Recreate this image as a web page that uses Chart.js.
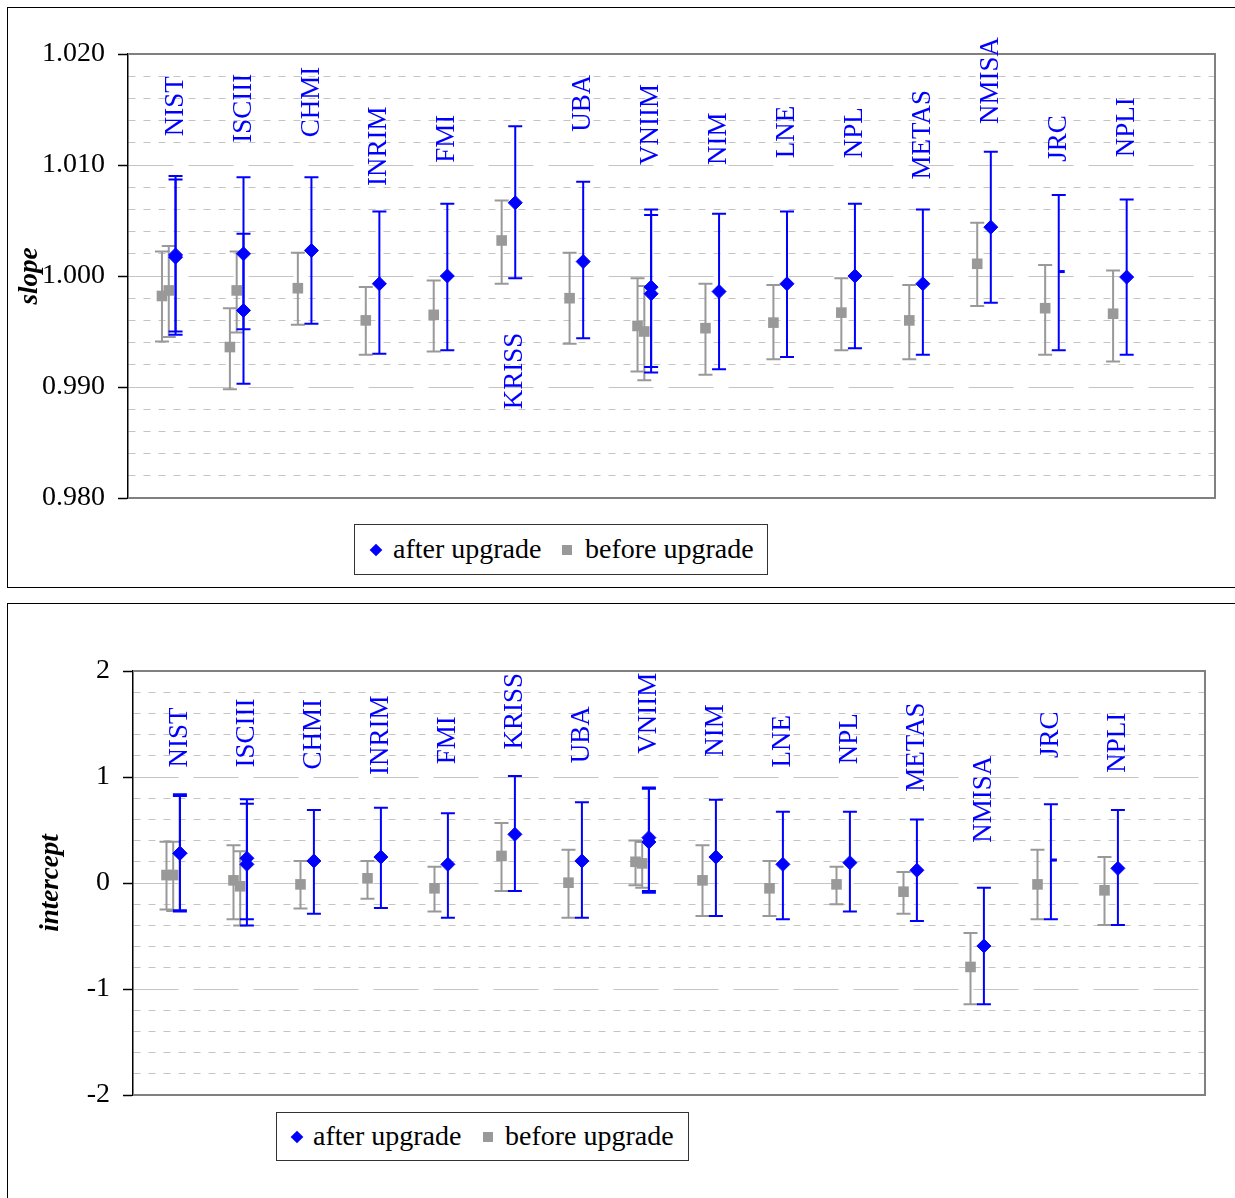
<!DOCTYPE html>
<html>
<head>
<meta charset="utf-8">
<script src="https://cdn.jsdelivr.net/npm/chart.js@4.4.0/dist/chart.umd.min.js"></script>
<style>
    body { margin: 0; width: 1235px; height: 1198px; overflow: hidden; position: relative; background: #fff; font-family: 'Liberation Serif', 'Times New Roman', serif; }
    .frame { position: absolute; border: 1.5px solid #000; box-sizing: border-box; }
    #frame-top { left: 7px; top: 7px; width: 1245px; height: 581px; }
    #frame-bottom { left: 7px; top: 603px; width: 1245px; height: 620px; }
    canvas { position: absolute; left: 0; }
    #slopeChart { top: 0; }
    #interceptChart { top: 600px; }
    .legend { position: absolute; border: 1.5px solid #333; box-sizing: border-box; background: #fff; font-size: 28px; color: #000; white-space: nowrap; }
    .legend span { position: absolute; }
    .legend .txt { top: 50%; transform: translateY(-52%); line-height: 1; }
    .legend .diamond { width: 9px; height: 9px; background: #0000ff; top: 50%; transform: translate(-50%, -50%) rotate(45deg); }
    .legend .square { width: 10px; height: 10px; background: #999999; top: 50%; transform: translate(-50%, -50%); }
    #legend-top { left: 354px; top: 524px; width: 414px; height: 51px; }
    #legend-bottom { left: 276px; top: 1112px; width: 413px; height: 49px; }
</style>
</head>
<body>
<div class="frame" id="frame-top"></div>
<div class="frame" id="frame-bottom"></div>
<canvas id="slopeChart" width="1235" height="595"></canvas>
<canvas id="interceptChart" width="1235" height="598"></canvas>
<div class="legend" id="legend-top">
    <span class="diamond" style="left:21px"></span><span class="txt" style="left:38px">after upgrade</span>
    <span class="square" style="left:212px"></span><span class="txt" style="left:230px">before upgrade</span>
</div>
<div class="legend" id="legend-bottom">
    <span class="diamond" style="left:20px"></span><span class="txt" style="left:36px">after upgrade</span>
    <span class="square" style="left:211px"></span><span class="txt" style="left:228px">before upgrade</span>
</div>
<script>
const labs = ['NIST', 'ISCIII', 'CHMI', 'INRIM', 'FMI', 'KRISS', 'UBA', 'VNIIM', 'NIM', 'LNE', 'NPL', 'METAS', 'NMISA', 'JRC', 'NPLI'];

// one entry per result, NIST, ISCIII and VNIIM reported two
const afterLab = [0, 0, 1, 1, 2, 3, 4, 5, 6, 7, 7, 8, 9, 10, 11, 12, 13, 14];
const afterSlope = [1.0019, 1.0017, 1.0020, 0.9969, 1.0023, 0.9993, 1.0000, 1.0066, 1.0013, 0.9990, 0.9984, 0.9986, 0.9993, 1.0000, 0.9993, 1.0044, 1.0004, 0.9999];
const afterSlopeLow = [0.9950, 0.9947, 0.9952, 0.9903, 0.9957, 0.9930, 0.9933, 0.9998, 0.9944, 0.9918, 0.9913, 0.9916, 0.9927, 0.9935, 0.9929, 0.9976, 0.9933, 0.9929];
const afterSlopeHigh = [1.0090, 1.0087, 1.0089, 1.0038, 1.0089, 1.0058, 1.0065, 1.0135, 1.0085, 1.0060, 1.0055, 1.0056, 1.0058, 1.0065, 1.0060, 1.0112, 1.0073, 1.0069];
const afterIntercept = [0.28, 0.28, 0.233, 0.176, 0.208, 0.245, 0.176, 0.459, 0.208, 0.428, 0.387, 0.245, 0.176, 0.192, 0.12, -0.594, 0.217, 0.138];
const afterInterceptLow = [-0.258, -0.27, -0.343, -0.40, -0.29, -0.236, -0.327, -0.075, -0.327, -0.075, -0.091, -0.311, -0.343, -0.27, -0.358, -1.145, -0.343, -0.396];
const afterInterceptHigh = [0.837, 0.82, 0.79, 0.748, 0.689, 0.71, 0.657, 1.009, 0.761, 0.90, 0.89, 0.786, 0.673, 0.673, 0.60, -0.044, 0.742, 0.689];

const beforeLab = [0, 0, 1, 1, 2, 3, 4, 5, 6, 7, 7, 8, 9, 10, 11, 12, 13, 14];
const beforeSlope = [0.9982, 0.9987, 0.9936, 0.9987, 0.9989, 0.9960, 0.9965, 1.0032, 0.9980, 0.9955, 0.9950, 0.9953, 0.9958, 0.9967, 0.9960, 1.0011, 0.9971, 0.9966];
const beforeSlopeLow = [0.9941, 0.9945, 0.9898, 0.9949, 0.9956, 0.9929, 0.9932, 0.9993, 0.9939, 0.9914, 0.9906, 0.9911, 0.9925, 0.9933, 0.9925, 0.9973, 0.9929, 0.9923];
const beforeSlopeHigh = [1.0022, 1.0027, 0.9971, 1.0022, 1.0021, 0.9990, 0.9996, 1.0068, 1.0021, 0.9998, 0.9991, 0.9993, 0.9992, 0.9998, 0.9992, 1.0048, 1.0010, 1.0005];
const beforeIntercept = [0.075, 0.075, 0.025, -0.031, -0.013, 0.044, -0.05, 0.255, 0.003, 0.20, 0.185, 0.025, -0.05, -0.013, -0.082, -0.792, -0.013, -0.069];
const beforeInterceptLow = [-0.25, -0.264, -0.343, -0.40, -0.24, -0.148, -0.27, -0.075, -0.327, -0.022, -0.044, -0.311, -0.311, -0.20, -0.29, -1.145, -0.343, -0.396];
const beforeInterceptHigh = [0.39, 0.39, 0.355, 0.30, 0.208, 0.208, 0.154, 0.566, 0.314, 0.40, 0.387, 0.355, 0.208, 0.154, 0.104, -0.472, 0.314, 0.245];

// value on the y axis where each lab name starts
const slopeLabelAt = [1.0126, 1.0120, 1.0125, 1.0081, 1.0102, 0.9880, 1.0130, 1.0100, 1.0100, 1.0106, 1.0106, 1.0087, 1.0137, 1.0103, 1.0107];
const interceptLabelAt = [1.09, 1.09, 1.07, 1.02, 1.12, 1.26, 1.13, 1.22, 1.19, 1.09, 1.12, 0.86, 0.38, 1.18, 1.04];

const slopeRange = [0.98, 1.02];
const slopeMajor = 0.01;
const slopeMinor = 0.002;
const interceptRange = [-2, 2];
const interceptMajor = 1;
const interceptMinor = 0.2;

const BLUE = '#0000ff';
const GRAY = '#999999';
const SERIF = "'Liberation Serif', 'Times New Roman', serif";

Chart.defaults.font.family = SERIF;

function afterPoints(values) {
    return afterLab.map((lab, i) => ({ x: lab + 1.2, y: values[i] }));
}

function beforePoints(values) {
    const seen = {};
    return beforeLab.map((lab, i) => {
        const repeat = seen[lab] || 0;
        seen[lab] = repeat + 1;
        return { x: lab + 1 + 0.1 * repeat, y: values[i] };
    });
}

const errorBarPlugin = {
    id: 'errorBars',
    beforeDatasetsDraw(chart) {
        const { ctx, chartArea } = chart;
        const yScale = chart.scales.y;
        ctx.save();
        // plot area frame (the left edge is the axis line)
        ctx.strokeStyle = '#808080';
        ctx.lineWidth = 2;
        ctx.beginPath();
        ctx.moveTo(chartArea.left, chartArea.top);
        ctx.lineTo(chartArea.right, chartArea.top);
        ctx.lineTo(chartArea.right, chartArea.bottom);
        ctx.lineTo(chartArea.left, chartArea.bottom);
        ctx.stroke();

        for (let d = chart.data.datasets.length - 1; d >= 0; d--) {
            const ds = chart.data.datasets[d];
            const meta = chart.getDatasetMeta(d);
            ctx.strokeStyle = ds.borderColor;
            ctx.lineWidth = 2;
            meta.data.forEach((pt, i) => {
                const top = yScale.getPixelForValue(ds.high[i]);
                const bottom = yScale.getPixelForValue(ds.low[i]);
                ctx.beginPath();
                ctx.moveTo(pt.x, top);
                ctx.lineTo(pt.x, bottom);
                ctx.moveTo(pt.x - 7, top);
                ctx.lineTo(pt.x + 7, top);
                ctx.moveTo(pt.x - 7, bottom);
                ctx.lineTo(pt.x + 7, bottom);
                ctx.stroke();
            });
        }
        ctx.restore();
    },
};

const labLabelPlugin = {
    id: 'labLabels',
    afterDatasetsDraw(chart, args, opts) {
        const { ctx } = chart;
        const xScale = chart.scales.x;
        const yScale = chart.scales.y;
        ctx.save();
        ctx.fillStyle = BLUE;
        ctx.font = `27px ${SERIF}`;
        ctx.textAlign = 'left';
        ctx.textBaseline = 'middle';
        labs.forEach((name, i) => {
            const x = xScale.getPixelForValue(i + 1.2);
            const y = yScale.getPixelForValue(opts.at[i]);
            ctx.save();
            ctx.translate(x, y);
            ctx.rotate(-Math.PI / 2);
            ctx.fillText(name, 0, 0);
            ctx.restore();
        });
        ctx.restore();
    },
};

function makeChart(canvasId, cfg) {
    const isMajor = (v) => Math.abs(v / cfg.major - Math.round(v / cfg.major)) < 1e-6;
    const tickValue = (c) => (c.tick ? c.tick.value : null);

    return new Chart(document.getElementById(canvasId), {
        type: 'scatter',
        data: {
            datasets: [
                {
                    label: 'after upgrade',
                    data: afterPoints(cfg.after),
                    low: cfg.afterLow,
                    high: cfg.afterHigh,
                    backgroundColor: BLUE,
                    borderColor: BLUE,
                    pointStyle: (c) => (afterLab[c.dataIndex] === 13 ? 'dash' : 'rectRot'),
                    pointRadius: (c) => (afterLab[c.dataIndex] === 13 ? 6 : 7),
                    pointHoverRadius: (c) => (afterLab[c.dataIndex] === 13 ? 6 : 7),
                    pointBorderWidth: (c) => (afterLab[c.dataIndex] === 13 ? 3 : 1),
                },
                {
                    label: 'before upgrade',
                    data: beforePoints(cfg.before),
                    low: cfg.beforeLow,
                    high: cfg.beforeHigh,
                    backgroundColor: GRAY,
                    borderColor: GRAY,
                    pointStyle: 'rect',
                    pointRadius: 7.5,
                    pointHoverRadius: 7.5,
                    pointBorderWidth: 0,
                },
            ],
        },
        options: {
            responsive: false,
            animation: false,
            layout: { padding: cfg.padding },
            scales: {
                x: { type: 'linear', min: 0.5, max: 16.5, display: false },
                y: {
                    min: cfg.range[0],
                    max: cfg.range[1],
                    afterFit: (scale) => { scale.width = cfg.axisWidth; },
                    ticks: {
                        stepSize: cfg.minor,
                        autoSkip: false,
                        padding: 13,
                        color: '#000',
                        font: { size: 28 },
                        callback: (v) => (isMajor(v) ? cfg.format(v) : ''),
                    },
                    grid: {
                        color: '#c4c4c4',
                        lineWidth: 1,
                        tickLength: 10,
                        tickWidth: 1.5,
                        tickColor: (c) => (tickValue(c) !== null && isMajor(tickValue(c)) ? '#000' : 'rgba(0,0,0,0)'),
                    },
                    border: {
                        color: '#000',
                        width: 1.5,
                        dash: (c) => {
                            const v = tickValue(c);
                            if (v === null) return [];
                            return isMajor(v) ? [45, 15] : [7, 8];
                        },
                    },
                    title: {
                        display: true,
                        text: cfg.title,
                        color: '#000',
                        font: { size: 27, style: 'italic', weight: 'bold' },
                        padding: { top: cfg.titlePad, bottom: 0 },
                    },
                },
            },
            plugins: {
                legend: { display: false },
                tooltip: { enabled: false },
                labLabels: { at: cfg.labelAt },
            },
        },
        plugins: [errorBarPlugin, labLabelPlugin],
    });
}

makeChart('slopeChart', {
    title: 'slope',
    range: slopeRange,
    major: slopeMajor,
    minor: slopeMinor,
    format: (v) => v.toFixed(3),
    axisWidth: 128,
    titlePad: 14,
    padding: { top: 54, right: 20, bottom: 97, left: 0 },
    after: afterSlope,
    afterLow: afterSlopeLow,
    afterHigh: afterSlopeHigh,
    before: beforeSlope,
    beforeLow: beforeSlopeLow,
    beforeHigh: beforeSlopeHigh,
    labelAt: slopeLabelAt,
});

makeChart('interceptChart', {
    title: 'intercept',
    range: interceptRange,
    major: interceptMajor,
    minor: interceptMinor,
    format: (v) => String(Math.round(v)),
    axisWidth: 133,
    titlePad: 35,
    padding: { top: 71, right: 30, bottom: 103, left: 0 },
    after: afterIntercept,
    afterLow: afterInterceptLow,
    afterHigh: afterInterceptHigh,
    before: beforeIntercept,
    beforeLow: beforeInterceptLow,
    beforeHigh: beforeInterceptHigh,
    labelAt: interceptLabelAt,
});
</script>
</body>
</html>
